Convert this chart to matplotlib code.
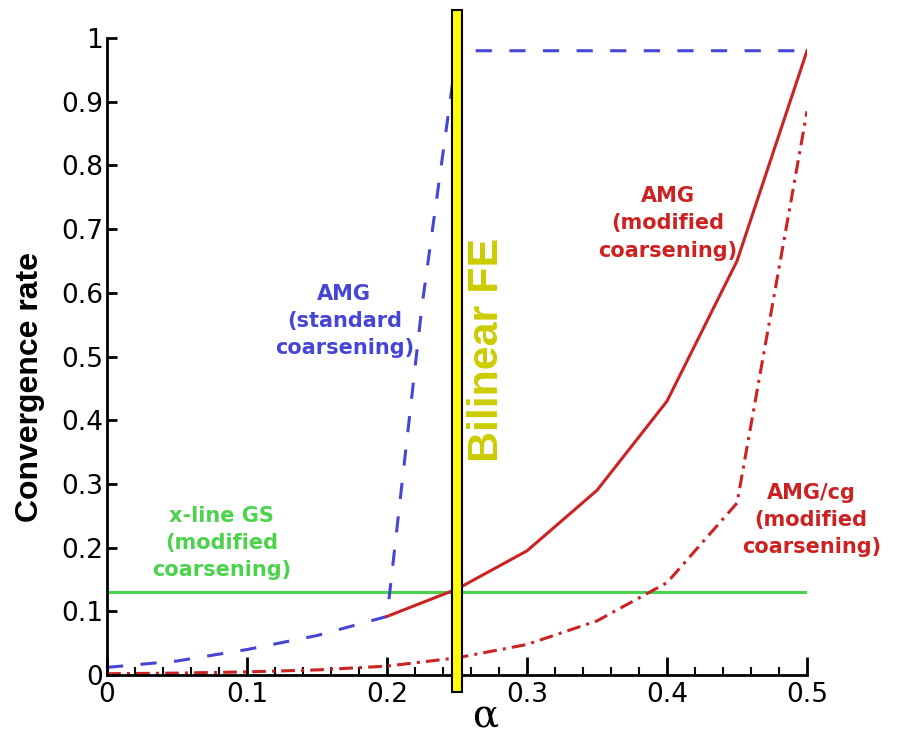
import numpy as np
import matplotlib
matplotlib.use("Agg")
import matplotlib.pyplot as plt
from matplotlib.patches import Rectangle
from matplotlib.ticker import MultipleLocator

# data
alpha_std = [0.0, 0.05, 0.1, 0.15, 0.2, 0.225, 0.25, 0.5]
rate_std = [0.012, 0.022, 0.04, 0.062, 0.092, 0.58, 0.98, 0.98]

alpha_mod = [0.2, 0.25, 0.3, 0.35, 0.4, 0.45, 0.5]
rate_mod = [0.092, 0.135, 0.195, 0.29, 0.43, 0.65, 0.98]

alpha_cg = [0.0, 0.05, 0.1, 0.15, 0.2, 0.25, 0.3, 0.35, 0.4, 0.45, 0.5]
rate_cg = [0.002, 0.003, 0.005, 0.008, 0.014, 0.027, 0.048, 0.085, 0.145, 0.27, 0.885]

alpha_gs = [0.0, 0.5]
rate_gs = [0.13, 0.13]

bilinear_alpha = 0.25

xticks = [0, 0.1, 0.2, 0.3, 0.4, 0.5]
xticklabels = ["0", "0.1", "0.2", "0.3", "0.4", "0.5"]
yticks = np.arange(0, 11) / 10
yticklabels = ["0", "0.1", "0.2", "0.3", "0.4", "0.5", "0.6", "0.7", "0.8", "0.9", "1"]

blue = "#4646d6"
red = "#cc2222"
green = "#4cd34c"
olive = "#cccc00"

plt.rcParams['font.family'] = ['Liberation Sans', 'DejaVu Sans']

fig = plt.figure(figsize=(9.01, 7.35), dpi=100)
ax = fig.add_axes([0.1188, 0.0816, 0.7769, 0.8667])

ax.plot(alpha_gs, rate_gs, color=green, lw=2.2)
ax.plot(alpha_std, rate_std, color=blue, lw=2.2, linestyle=(0, (5.3, 5.7)))
ax.plot(alpha_mod, rate_mod, color=red, lw=2.2)
ax.plot(alpha_cg, rate_cg, color=red, lw=2.2, linestyle=(0, (4.5, 2.0, 1.0, 2.0)))

# yellow marker bar at the bilinear FE limit
bar_w = 0.0072
ax.add_patch(Rectangle((bilinear_alpha - bar_w / 2, -0.027), bar_w, 1.071,
                       facecolor="yellow", edgecolor="black", lw=1.5,
                       clip_on=False, zorder=5))
ax.text(0.2715, 0.51, "Bilinear FE", rotation=90, color=olive, fontsize=31,
        fontweight="bold", family="Liberation Sans", ha="center", va="center")

tkw = dict(fontsize=15, fontweight="bold", ha="center", va="center",
           linespacing=1.45, family=['DejaVu Sans'])
ax.text(0.1695, 0.556, "AMG\n(standard\ncoarsening)", color=blue, **tkw)
ax.text(0.4005, 0.709, "AMG\n(modified\ncoarsening)", color=red, **tkw)
ax.text(0.503, 0.243, "AMG/cg\n(modified\ncoarsening)", color=red, **tkw)
ax.text(0.082, 0.207, "x-line GS\n(modified\ncoarsening)", color=green, **tkw)

ax.set_xlim(0, 0.5)
ax.set_ylim(0, 1)
ax.spines['top'].set_visible(False)
ax.spines['right'].set_visible(False)
ax.spines['left'].set_linewidth(2)
ax.spines['bottom'].set_linewidth(2)
ax.xaxis.set_minor_locator(MultipleLocator(0.02))
ax.set_xticks(xticks)
ax.set_xticklabels(xticklabels, family=['DejaVu Sans'])
ax.set_yticks(yticks)
ax.set_yticklabels(yticklabels, family=['DejaVu Sans'])
ax.tick_params(axis='x', which='major', direction='in', length=13, width=2, labelsize=19, pad=5)
ax.tick_params(axis='x', which='minor', direction='in', length=6, width=1.5)
ax.tick_params(axis='y', which='major', direction='in', length=7, width=2, labelsize=19, pad=3)

ax.set_ylabel("Convergence rate", fontsize=23, fontweight="bold", family="Liberation Sans")
ax.yaxis.set_label_coords(-0.088, 0.452)
ax.set_xlabel("α", fontsize=28, family=['DejaVu Serif'])
ax.xaxis.set_label_coords(0.54, -0.035)
ax.xaxis.label.set_va("top")

fig.savefig("out.png", dpi=100)
